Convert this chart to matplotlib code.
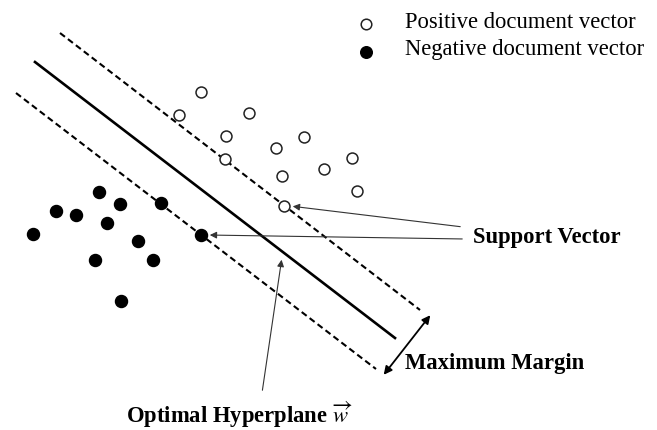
import matplotlib
matplotlib.use("Agg")
import matplotlib.pyplot as plt

plt.rcParams["font.family"] = ["Liberation Serif", "DejaVu Serif"]
plt.rcParams["mathtext.fontset"] = "stix"

# point positions (pixel space, y down)
pos_x = [201, 179, 249, 226, 304, 276, 225, 352, 324, 282, 357, 284]
pos_y = [92, 115, 113, 136, 137, 148, 159, 158, 169, 176, 191, 206]
neg_x = [99, 120, 161, 56, 76, 107, 33, 201, 138, 95, 153, 121]
neg_y = [192, 204, 203, 211, 215, 223, 234, 235, 241, 260, 260, 301]

# hyperplane and margin lines (start, end)
hyper = [(35, 62), (395, 338)]
upper = [(60, 33), (420, 310)]
lower = [(16, 93), (376, 369)]

fig = plt.figure(figsize=(6.57, 4.30), dpi=100)
ax = fig.add_axes([0, 0, 1, 1])
ax.set_xlim(0, 657)
ax.set_ylim(430, 0)
ax.axis("off")

ax.plot([hyper[0][0], hyper[1][0]], [hyper[0][1], hyper[1][1]], color="black", lw=1.9)
for seg in (upper, lower):
    ax.plot([seg[0][0], seg[1][0]], [seg[0][1], seg[1][1]], color="black", lw=1.5,
            dashes=(3, 1.8))

ax.scatter(pos_x, pos_y, s=62, facecolors="white", edgecolors="#222222", linewidths=1.1, zorder=3)
ax.scatter(neg_x, neg_y, s=75, color="black", zorder=3)

# legend
ax.scatter([366], [24], s=58, facecolors="white", edgecolors="#222222", linewidths=1.1)
ax.scatter([366], [52], s=70, color="black")
ax.text(405, 22, "Positive document vector", fontsize=16.3, va="center")
ax.text(405, 50, "Negative document vector", fontsize=16.3, va="center")

arrow = dict(arrowstyle="-|>", color="#333333", lw=0.8, mutation_scale=10)
ax.annotate("", xy=(290, 206), xytext=(463, 227), arrowprops=arrow)
ax.annotate("", xy=(207, 235), xytext=(465, 239), arrowprops=arrow)
ax.annotate("", xy=(282, 257), xytext=(262, 393), arrowprops=arrow)
ax.annotate("", xy=(432, 313), xytext=(382, 377),
            arrowprops=dict(arrowstyle="<|-|>", color="black", lw=1.3, mutation_scale=12))

ax.text(473, 238, "Support Vector", fontsize=16.3, fontweight="bold", va="center")
ax.text(405, 363, "Maximum Margin", fontsize=16.3, fontweight="bold", va="center")
ax.text(126, 415, r"Optimal Hyperplane $\overrightarrow{w}$", fontsize=16.3,
        fontweight="bold", va="center")

fig.savefig("out.png", dpi=100)
